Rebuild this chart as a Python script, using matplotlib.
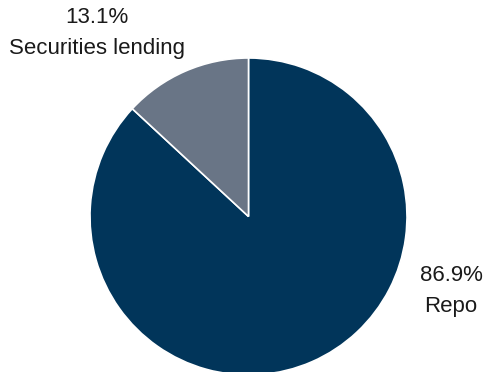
import matplotlib
matplotlib.use("Agg")
import matplotlib.pyplot as plt

categories = ["Repo", "Securities lending"]
shares = [86.9, 13.1]
colors = ["#01355a", "#697586"]

plt.rcParams["font.family"] = ["Liberation Sans", "DejaVu Sans"]

fig = plt.figure(figsize=(4.88, 3.72), dpi=100)
ax = fig.add_axes([0, 0, 1, 1])

ax.pie(shares, colors=colors, startangle=90, counterclock=False,
       center=(248.5, 155.5), radius=158.5, frame=True,
       wedgeprops=dict(edgecolor="white", linewidth=1.2))
ax.set_xlim(0, 488)
ax.set_ylim(0, 372)
ax.set_aspect("equal")
ax.axis("off")

label_pos = {"Repo": (451, 81), "Securities lending": (97, 339)}
for name, val in zip(categories, shares):
    x, y = label_pos[name]
    ax.text(x, y, f"{val:.1f}%\n{name}", ha="center", va="center",
            fontsize=16, linespacing=1.6, color="#1a1a1a")

fig.savefig("out.png", dpi=100)
